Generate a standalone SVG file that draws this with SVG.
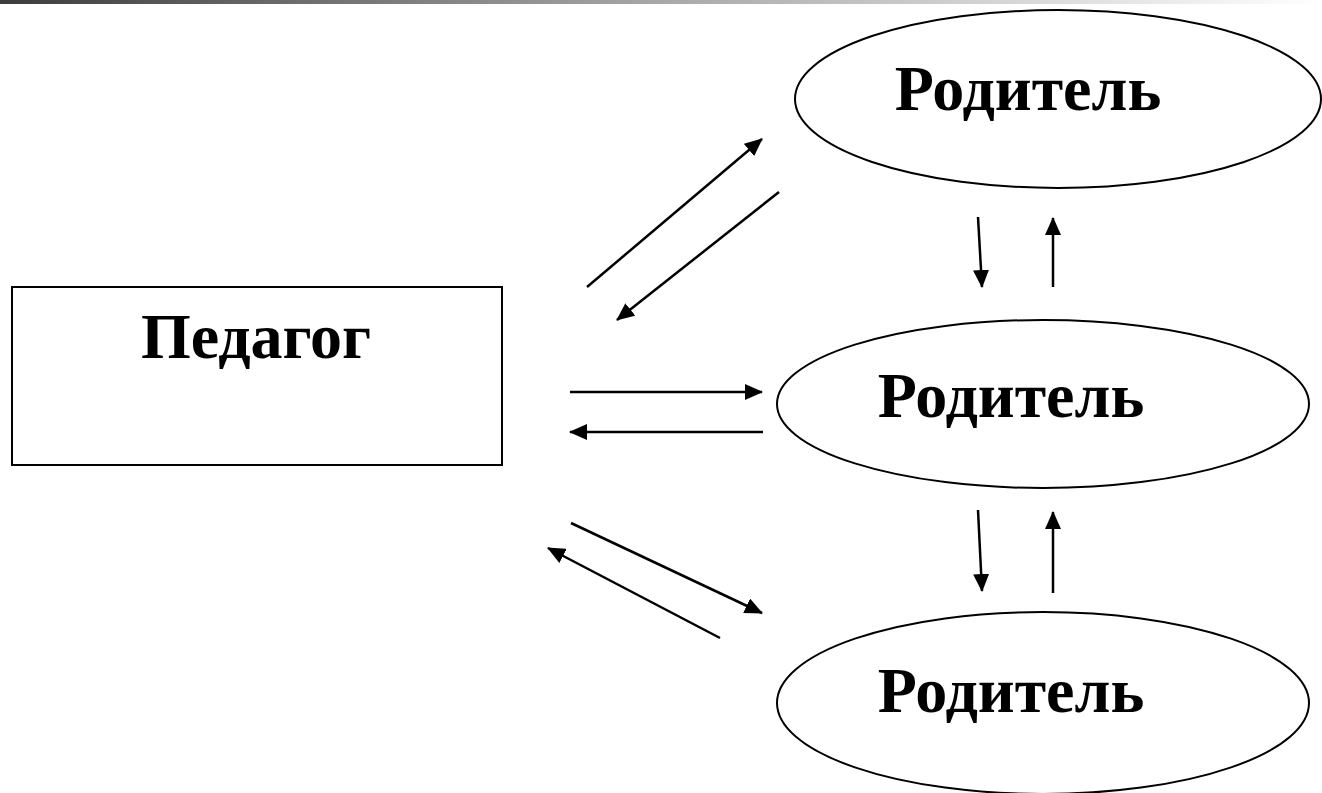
<svg xmlns="http://www.w3.org/2000/svg" width="1322" height="793" viewBox="0 0 1322 793">
<defs>
<linearGradient id="bar" x1="0" y1="0" x2="1" y2="0">
<stop offset="0" stop-color="#3c3c3c"/>
<stop offset="0.5" stop-color="#a8a8a8"/>
<stop offset="1" stop-color="#ffffff"/>
</linearGradient>
<marker id="ah" markerUnits="userSpaceOnUse" markerWidth="19" markerHeight="16" refX="17" refY="8" orient="auto">
<path d="M0,0 L18,8 L0,16 Z" fill="#000"/>
</marker>
</defs>
<style>
.shape{fill:#fff;stroke:#000;stroke-width:2}
.lbl{font-family:"Liberation Serif","Times New Roman",serif;font-weight:bold;font-size:64px;fill:#000;text-anchor:middle}
.con line{stroke:#000;stroke-width:2.5;marker-end:url(#ah)}
</style>
<rect x="0" y="0" width="1322" height="4" fill="url(#bar)"/>
<g id="pedagog">
<rect class="shape" x="12" y="287" width="490" height="178"/>
<text class="lbl" x="256" y="358">Педагог</text>
</g>
<g id="parent1">
<ellipse class="shape" cx="1058" cy="99" rx="263" ry="89"/>
<text class="lbl" x="1028" y="110">Родитель</text>
</g>
<g id="parent2">
<ellipse class="shape" cx="1043" cy="404" rx="266" ry="84"/>
<text class="lbl" x="1011" y="417">Родитель</text>
</g>
<g id="parent3">
<ellipse class="shape" cx="1043" cy="703" rx="266" ry="91"/>
<text class="lbl" x="1011" y="712">Родитель</text>
</g>
<g id="connectors" class="con">
<line x1="587" y1="287" x2="762" y2="139"/>
<line x1="779" y1="192" x2="617" y2="320"/>
<line x1="570" y1="392" x2="762" y2="392"/>
<line x1="763" y1="432" x2="570" y2="432"/>
<line x1="571" y1="523" x2="762" y2="613"/>
<line x1="720" y1="638" x2="548" y2="548"/>
<line x1="978" y1="217" x2="982" y2="287"/>
<line x1="1053" y1="287" x2="1053" y2="218"/>
<line x1="978" y1="510" x2="982" y2="591"/>
<line x1="1053" y1="593" x2="1053" y2="512"/>
</g>
</svg>
